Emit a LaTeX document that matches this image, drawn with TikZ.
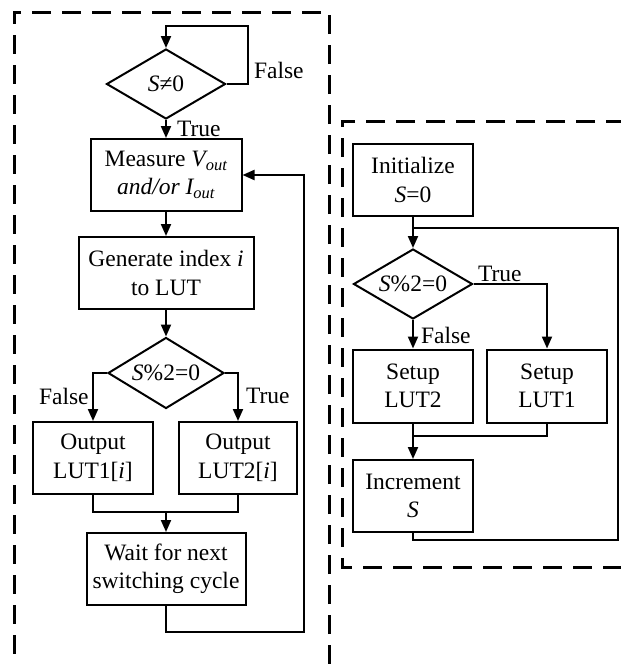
\documentclass[tikz,border=0pt]{standalone}
\usepackage{fontspec}
\setmainfont{Liberation Serif}
\usetikzlibrary{shapes.geometric,arrows.meta}

\tikzset{
  box/.style={draw, line width=2pt, rectangle, inner sep=0pt, align=center,
    font=\fontsize{23.5}{28.5}\selectfont},
  dec/.style={draw, line width=2pt, diamond, inner sep=0pt, aspect=1.7,
    font=\fontsize{23.5}{28.5}\selectfont},
  lbl/.style={inner sep=0pt, font=\fontsize{23.5}{28.5}\selectfont},
  arr/.style={-{Triangle[length=12pt,width=10pt]}},
  dashbox/.style={line width=3pt, dash pattern=on 19pt off 11pt}
}

\begin{document}
\begin{tikzpicture}[x=1pt, y=-1pt, line width=2pt]
  \useasboundingbox (0,0) rectangle (621,664);

  % the two dashed frames
  \draw[dashbox] (329,664) -- (329,12) -- (14,12) -- (14,664);
  \draw[dashbox] (625,121) -- (342,121) -- (342,567) -- (625,567);

  % left chart
  \node[dec, minimum width=119pt, minimum height=70pt] (d1) at (166,84) {\textit{S}≠0};
  \node[box, minimum width=151pt, minimum height=72pt] (meas) at (166,175)
    {Measure \textit{V\textsubscript{out}}\\ \textit{and/or I\textsubscript{out}}};
  \node[box, minimum width=175pt, minimum height=72pt] (gen) at (166,273)
    {Generate index \textit{i}\\ to LUT};
  \node[dec, minimum width=116pt, minimum height=71pt] (d2) at (166,373) {\textit{S}\%2=0};
  \node[box, minimum width=120pt, minimum height=72pt] (out1) at (93,458)
    {Output\\ LUT1[\textit{i}]};
  \node[box, minimum width=118pt, minimum height=72pt] (out2) at (238,458)
    {Output\\ LUT2[\textit{i}]};
  \node[box, minimum width=159pt, minimum height=72pt] (wait) at (166,569)
    {Wait for next\\ switching cycle};

  \coordinate (lpT) at (248,26);
  \coordinate (lpC) at (166,26);
  \coordinate (m1) at (166,511);
  \coordinate (fbB) at (304,632);
  \coordinate (fbT) at (304,175);

  \draw[arr] (d1.east) -| (lpT) -- (lpC) -- (d1.north);
  \draw[arr] (d1.south) -- (meas.north);
  \draw[arr] (meas.south) -- (gen.north);
  \draw[arr] (gen.south) -- (d2.north);
  \draw[arr] (d2.west) -| (out1.north);
  \draw[arr] (d2.east) -| (out2.north);
  \draw (out1.south) -- ++(0,17) -| (out2.south);
  \draw[arr] (m1) -- (wait.north);
  \draw[arr] (wait.south) |- (fbB) -- (fbT) -- (meas.east);

  \node[lbl, anchor=west] (f1) at (253,70) {False};
  \node[lbl, anchor=west] (t1) at (176,129) {True};
  \node[lbl, anchor=west] (f2) at (38,396) {False};
  \node[lbl, anchor=west] (t2) at (245,396) {True};

  % right chart
  \node[box, minimum width=120pt, minimum height=72pt] (init) at (413,180)
    {Initialize\\ \textit{S}=0};
  \node[dec, minimum width=119pt, minimum height=70pt] (d3) at (413,284) {\textit{S}\%2=0};
  \node[box, minimum width=120pt, minimum height=73pt] (set2) at (413,386)
    {Setup\\ LUT2};
  \node[box, minimum width=120pt, minimum height=73pt] (set1) at (547,386)
    {Setup\\ LUT1};
  \node[box, minimum width=120pt, minimum height=72pt] (incr) at (413,496)
    {Increment\\ \textit{S}};

  \coordinate (j2) at (413,228);
  \coordinate (m2) at (413,436);
  \coordinate (fb2B) at (618,540);
  \coordinate (fb2T) at (618,228);

  \draw[arr] (init.south) -- (d3.north);
  \draw[arr] (d3.east) -| (set1.north);
  \draw[arr] (d3.south) -- (set2.north);
  \draw (set1.south) |- (m2);
  \draw[arr] (set2.south) -- (incr.north);
  \draw (incr.south) |- (fb2B) -- (fb2T) -- (j2);

  \node[lbl, anchor=west] (t3) at (477,274) {True};
  \node[lbl, anchor=west] (f3) at (420,335) {False};
\end{tikzpicture}
\end{document}
